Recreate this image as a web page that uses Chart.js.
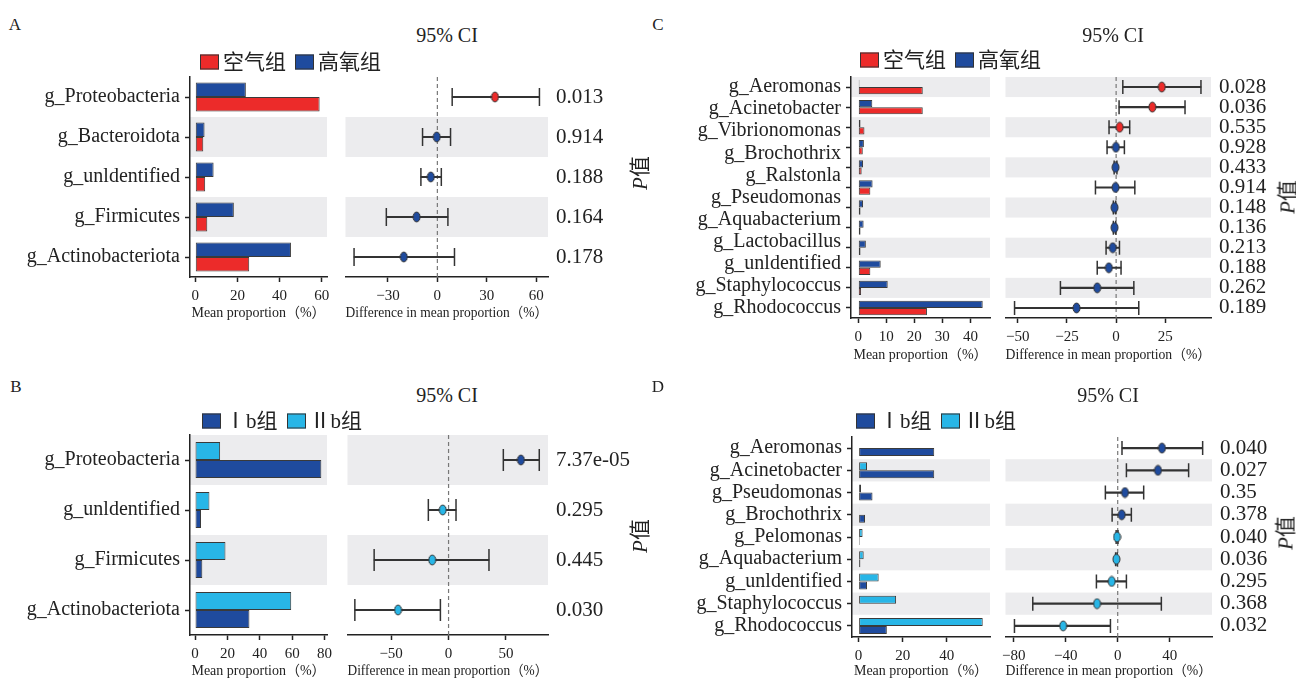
<!DOCTYPE html>
<html>
<head>
<meta charset="utf-8">
<script src="https://cdn.jsdelivr.net/npm/chart.js@4"></script>
<style>
  body { margin: 0; width: 1296px; height: 680px; position: relative; overflow: hidden; background: #fff;
         font-family: "Liberation Serif", "Noto Sans CJK SC", serif; color: #222; }
  canvas { position: absolute; }
  .t { position: absolute; transform: translate(-50%, -50%); white-space: nowrap; line-height: 1; }
  .letter { font-size: 17px; }
  .ci { font-size: 20px; }
  .pv { font-size: 21px; transform: translate(-50%, -50%) rotate(-90deg); }
  .pv i { font-style: italic; }
  .legend { position: absolute; display: flex; align-items: center; transform: translateY(-50%);
            font-size: 21px; line-height: 1; white-space: nowrap; }
  .sw { display: inline-block; width: 17px; height: 13px; border: 1.5px solid #333; margin-right: 4px; }
  .lt { margin-right: 9px; }
</style>
</head>
<body>
<script>
Chart.defaults.font.family = '"Liberation Serif", "Noto Sans CJK SC", serif';
Chart.defaults.color = '#222';

const INK = '#222';
const BAND = '#ececee';
const RED = '#ec2b2a';
const BLUE = '#1f4b9e';
const CYAN = '#28b6e7';

// ---- A: 空气组 vs 高氧组 ----
const groupsA = ['空气组', '高氧组'];
const namesA = ['g_Proteobacteria', 'g_Bacteroidota', 'g_unldentified', 'g_Firmicutes', 'g_Actinobacteriota'];
const meanA1 = [59, 3.8, 4.7, 5.7, 25.6];
const meanA2 = [24, 4.4, 8.7, 18.3, 45.4];
const diffA = [35, -0.4, -4, -12.6, -20.4];
const lowA = [9, -9, -10, -31, -50.6];
const highA = [62, 8, 2.4, 6.4, 10.4];
const pA = ['0.013', '0.914', '0.188', '0.164', '0.178'];

// ---- B: Ⅰb组 vs Ⅱb组 ----
const groupsB = ['Ⅰb组', 'Ⅱb组'];
const namesB = ['g_Proteobacteria', 'g_unldentified', 'g_Firmicutes', 'g_Actinobacteriota'];
const meanB1 = [78, 3.7, 4.5, 33.6];
const meanB2 = [15.5, 8.9, 18.8, 59.4];
const diffB = [63, -5.1, -14.2, -44];
const lowB = [47.7, -17.6, -64.8, -81.6];
const highB = [79, 6.5, 35.2, -7.1];
const pB = ['7.37e-05', '0.295', '0.445', '0.030'];

// ---- C: 空气组 vs 高氧组 (genus) ----
const groupsC = ['空气组', '高氧组'];
const namesC = ['g_Aeromonas', 'g_Acinetobacter', 'g_Vibrionomonas', 'g_Brochothrix', 'g_Ralstonla',
                'g_Pseudomonas', 'g_Aquabacterium', 'g_Lactobacillus', 'g_unldentified',
                'g_Staphylococcus', 'g_Rhodococcus'];
const meanC1 = [23, 23, 2.2, 1.6, 1.2, 4.3, 0.8, 0.8, 0.8, 4.3, 1.0, 24.5];
const meanC2 = [0.4, 5, 0.8, 2, 1.7, 5.1, 1.7, 1.9, 2.7, 8, 10.5, 44.4];
const diffC = [23.2, 18.4, 1.8, -0.1, -0.3, -0.3, -0.8, -0.8, -1.7, -3.7, -9.6, -20.1];
const lowC = [3.4, 1.5, -3.6, -4.6, -1.0, -10.5, -1.4, -1.4, -5.1, -9.6, -28.3, -51.6];
const highC = [43.1, 35, 6.9, 4.2, 0.4, 9.5, -0.2, -0.2, 1.7, 2.5, 9, 11.5];
const pC = ['0.028', '0.036', '0.535', '0.928', '0.433', '0.914', '0.148', '0.136', '0.213', '0.188', '0.262', '0.189'];

// ---- D: Ⅰb组 vs Ⅱb组 (genus) ----
const groupsD = ['Ⅰb组', 'Ⅱb组'];
const namesD = ['g_Aeromonas', 'g_Acinetobacter', 'g_Pseudomonas', 'g_Brochothrix', 'g_Pelomonas',
                'g_Aquabacterium', 'g_unldentified', 'g_Staphylococcus', 'g_Rhodococcus'];
const meanD1 = [34.3, 34.3, 6.3, 2.9, 0.5, 0.8, 3.8, 0.3, 12.8];
const meanD2 = [0.2, 3.8, 1.1, 0.3, 1.8, 2.3, 9.1, 17, 56.3];
const diffD = [34.1, 31, 5.6, 3.1, -0.5, -1, -4.6, -15.9, -42];
const lowD = [3.3, 6.7, -9.5, -4.3, -1.2, -1.6, -16.4, -65.4, -79.5];
const highD = [65.4, 54.6, 20, 10.5, 0.2, -0.4, 6.7, 33.6, -5.6];
const pD = ['0.040', '0.027', '0.35', '0.378', '0.040', '0.036', '0.295', '0.368', '0.032'];

// alternate grey rows, counted from the bottom like ggplot
const bands = {
    id: 'bands',
    beforeDraw(chart) {
        const {ctx, chartArea: a, scales: {y}} = chart;
        const n = chart.data.labels.length;
        const h = (a.bottom - a.top) / n;
        ctx.save();
        ctx.fillStyle = BAND;
        for (let i = 0; i < n; i++) {
            if ((n - 1 - i) % 2 === 1) ctx.fillRect(a.left, y.getPixelForValue(i) - h / 2, a.right - a.left, h);
        }
        ctx.restore();
    }
};

const zeroLine = {
    id: 'zeroLine',
    beforeDatasetsDraw(chart) {
        const {ctx, chartArea: a, scales: {x}} = chart;
        const px = x.getPixelForValue(0);
        ctx.save();
        ctx.setLineDash([4, 3]);
        ctx.strokeStyle = '#777';
        ctx.lineWidth = 1.2;
        ctx.beginPath();
        ctx.moveTo(px, a.top);
        ctx.lineTo(px, a.bottom);
        ctx.stroke();
        ctx.restore();
    }
};

function ellipseDot(color) {
    const c = document.createElement('canvas');
    c.width = 9; c.height = 12;
    const g = c.getContext('2d');
    g.beginPath();
    g.ellipse(4.5, 6, 3.5, 4.9, 0, 0, Math.PI * 2);
    g.fillStyle = color;
    g.fill();
    g.lineWidth = 1;
    g.strokeStyle = '#333';
    g.stroke();
    return c;
}

function addText(x, y, html, cls) {
    const d = document.createElement('div');
    d.className = 't ' + cls;
    d.style.left = x + 'px';
    d.style.top = y + 'px';
    d.innerHTML = html;
    document.body.appendChild(d);
}

function addLegend(x, y, groups, colors) {
    const d = document.createElement('div');
    d.className = 'legend';
    d.style.left = x + 'px';
    d.style.top = y + 'px';
    groups.forEach((g, i) => {
        d.insertAdjacentHTML('beforeend', `<span class="sw" style="background:${colors[i]}"></span><span class="lt">${g}</span>`);
    });
    document.body.appendChild(d);
}

// no extra room for overflowing edge labels: the plot areas are placed by hand
function noPad(s) {
    s.paddingLeft = 0; s.paddingRight = 0; s.paddingTop = 0; s.paddingBottom = 0;
}

function makePanel(p) {
    const L = p.layout;
    const n = p.pvals.length;
    const H = L.bottom - L.top;

    const canvas = (left, width) => {
        const c = document.createElement('canvas');
        c.width = width; c.height = H;
        c.style.left = left + 'px';
        c.style.top = L.top + 'px';
        document.body.appendChild(c);
        return c;
    };

    const xAxis = (range, title) => ({
        type: 'linear', bounds: 'data', offset: false,
        min: range[0], max: range[1],
        ticks: {
            padding: 5, maxRotation: 0, color: INK, font: {size: 15},
            callback: v => String(v).replace('-', '\u2212')
        },
        afterBuildTicks: s => {
            const t = [];
            for (let v = Math.ceil(range[0] / range[2]) * range[2]; v <= range[1]; v += range[2]) t.push({value: v});
            s.ticks = t;
        },
        grid: {drawOnChartArea: false, offset: false, tickLength: 5, tickWidth: 1.5, tickColor: INK},
        border: {color: INK, width: 1.5},
        title: {
            display: true, text: title, color: INK, font: {size: 14},
            padding: {top: 0, bottom: Math.max(0, L.bottom - L.titleY - 8.4)}
        },
        afterFit: s => { s.height = L.bottom - L.axisY; noPad(s); }
    });

    const common = {
        indexAxis: 'y',
        responsive: false,
        animation: false,
        events: [],
        plugins: {legend: {display: false}, tooltip: {enabled: false}}
    };

    // mean proportion bars
    new Chart(canvas(L.barLeft, L.barR + 8 - L.barLeft), {
        type: 'bar',
        data: {
            labels: p.pvals,
            datasets: [
                {label: p.groups[1], data: p.mean2, backgroundColor: p.colors[1]},
                {label: p.groups[0], data: p.mean1, backgroundColor: p.colors[0]}
            ].map(d => Object.assign(d, {
                borderColor: '#3a3a3a', borderWidth: 1, borderSkipped: false,
                categoryPercentage: 0.72, barPercentage: 1
            }))
        },
        options: Object.assign({}, common, {
            layout: {padding: {top: L.axisTop - L.top, right: 8, left: 0, bottom: 0}},
            scales: {
                x: xAxis(p.barRange, 'Mean proportion（%）'),
                y: {
                    type: 'category', position: 'left', weight: 0,
                    grid: {drawOnChartArea: false, offset: false, tickLength: 5, tickWidth: 1.5, tickColor: INK},
                    ticks: {display: false},
                    border: {color: INK, width: 1.5},
                    afterFit: s => { s.width = 6; noPad(s); }
                },
                names: {
                    type: 'linear', position: 'left', weight: 1, reverse: true, bounds: 'data', offset: false,
                    min: -0.5, max: n - 0.5,
                    grid: {display: false, drawTicks: false, offset: false},
                    border: {display: false},
                    ticks: {autoSkip: false, padding: 4, color: INK, font: {size: 20},
                            callback: (v, i) => p.names[i]},
                    afterBuildTicks: s => {
                        s.ticks = p.names.map((_, i) => ({value: i * (n - 1) / (p.names.length - 1)}));
                    },
                    afterFit: s => { s.width = L.barL - L.barLeft - 6; noPad(s); }
                }
            }
        }),
        plugins: [bands]
    });

    // 95% CI of the difference
    const dot1 = ellipseDot(p.colors[0]);
    const dot2 = ellipseDot(p.colors[1]);
    const cap = {
        type: 'line', indexAxis: 'y', showLine: false, pointStyle: 'line', pointRotation: 90,
        pointRadius: p.capR, pointBorderColor: '#333', pointBorderWidth: 1.5, order: 1
    };
    new Chart(canvas(L.ciLeft, L.ciRight - L.ciLeft), {
        type: 'bar',
        data: {
            labels: p.pvals,
            datasets: [
                {type: 'line', indexAxis: 'y', data: p.diff, showLine: false, order: 0,
                 pointStyle: ctx => (ctx.raw > 0 ? dot1 : dot2)},
                Object.assign({data: p.low}, cap),
                Object.assign({data: p.high}, cap),
                {type: 'bar', indexAxis: 'y', data: p.low.map((l, i) => [l, p.high[i]]),
                 barThickness: 1.5, backgroundColor: '#333', borderWidth: 0, order: 2}
            ]
        },
        options: Object.assign({}, common, {
            layout: {padding: {top: L.axisTop - L.top, right: 0, left: L.ciL - L.ciLeft, bottom: 0}},
            scales: {
                x: xAxis(p.ciRange, 'Difference in mean proportion（%）'),
                y: {
                    type: 'category', position: 'right',
                    grid: {display: false, drawTicks: false},
                    border: {display: false},
                    ticks: {autoSkip: false, padding: 8, color: INK, font: {size: 21}},
                    afterFit: s => { s.width = L.ciRight - L.ciR; noPad(s); }
                }
            }
        }),
        plugins: [bands, zeroLine]
    });

    addText(L.letter[0], L.letter[1], p.letter, 'letter');
    addText(L.ciTitle[0], L.ciTitle[1], '95% CI', 'ci');
    addText(L.pLabel[0], L.pLabel[1], '<i>P</i>值', 'pv');
    addLegend(L.legend[0], L.legend[1], p.groups, p.colors);
}

makePanel({
    letter: 'A', groups: groupsA, colors: [RED, BLUE], names: namesA,
    mean1: meanA1, mean2: meanA2, diff: diffA, low: lowA, high: highA, pvals: pA,
    barRange: [-2.5, 62.5, 20], ciRange: [-55.8, 67.2, 30], capR: 9,
    layout: {top: 60, axisTop: 77, axisY: 277, bottom: 330, titleY: 313,
             barLeft: 0, barL: 190, barR: 327, ciLeft: 335, ciL: 343, ciR: 548, ciRight: 645,
             letter: [15, 24], ciTitle: [447, 35], pLabel: [640, 173], legend: [200, 62]}
});

makePanel({
    letter: 'B', groups: groupsB, colors: [BLUE, CYAN], names: namesB,
    mean1: meanB1, mean2: meanB2, diff: diffB, low: lowB, high: highB, pvals: pB,
    barRange: [-3.1, 81.5, 20], ciRange: [-88, 86.6, 50], capR: 11,
    layout: {top: 420, axisTop: 435, axisY: 635, bottom: 680, titleY: 671.5,
             barLeft: 0, barL: 190, barR: 327, ciLeft: 335, ciL: 343, ciR: 548, ciRight: 645,
             letter: [16, 386], ciTitle: [447, 395], pLabel: [640, 536], legend: [202, 421]}
});

makePanel({
    letter: 'C', groups: groupsC, colors: [RED, BLUE], names: namesC,
    mean1: meanC1, mean2: meanC2, diff: diffC, low: lowC, high: highC, pvals: pC,
    barRange: [-2.6, 47, 10], ciRange: [-56.2, 48.2, 25], capR: 7,
    layout: {top: 60, axisTop: 77, axisY: 318, bottom: 370, titleY: 355,
             barLeft: 640, barL: 851, barR: 990, ciLeft: 997, ciL: 1005, ciR: 1211, ciRight: 1296,
             letter: [658, 24], ciTitle: [1113, 35], pLabel: [1288, 197], legend: [860, 60]}
});

makePanel({
    letter: 'D', groups: groupsD, colors: [BLUE, CYAN], names: namesD,
    mean1: meanD1, mean2: meanD2, diff: diffD, low: lowD, high: highD, pvals: pD,
    barRange: [-3, 59.6, 20], ciRange: [-86.4, 72.6, 40], capR: 7,
    layout: {top: 420, axisTop: 437, axisY: 637, bottom: 680, titleY: 671.5,
             barLeft: 640, barL: 852, barR: 990, ciLeft: 997, ciL: 1005, ciR: 1212, ciRight: 1296,
             letter: [658, 386], ciTitle: [1108, 395], pLabel: [1286, 533], legend: [856, 421]}
});
</script>
</body>
</html>
